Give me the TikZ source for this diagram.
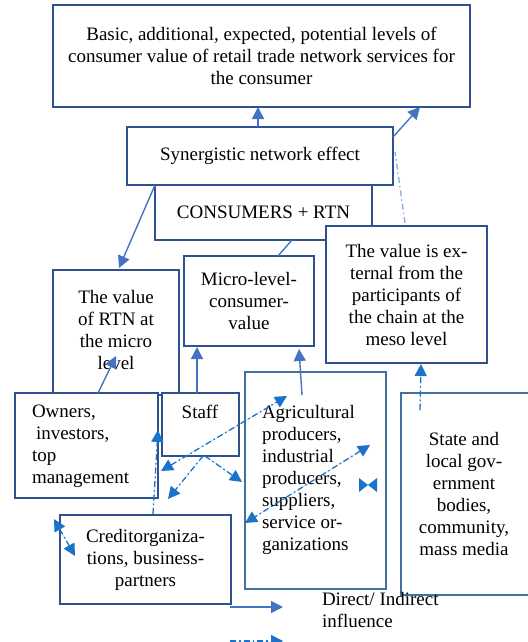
\documentclass[tikz,border=0pt]{standalone}
\usepackage{fontspec}
\setmainfont{Liberation Serif}
\usetikzlibrary{arrows.meta,calc}
\definecolor{bdark}{HTML}{2F528F}
\definecolor{blight}{HTML}{41719C}
\definecolor{arr}{HTML}{4472C4}
\definecolor{dd}{HTML}{1A73C8}
\definecolor{ddlight}{HTML}{8FAADC}
\begin{document}
\begin{tikzpicture}[x=1pt,y=-1pt,
  every node/.style={font=\fontsize{19}{22}\selectfont, inner sep=0pt, outer sep=0pt},
  box/.style={draw=bdark, line width=1.4pt, fill=white, anchor=north west, align=center},
  lbox/.style={box, draw=blight},
  tip/.style={-{Triangle[length=12pt,width=12pt]}},
  tips/.style={{Triangle[length=12pt,width=12pt]}-{Triangle[length=12pt,width=12pt]}},
  solidarr/.style={draw=arr, line width=1.4pt},
  ddarr/.style={draw=dd, fill=dd, line width=1.3pt, dash pattern=on 6pt off 3pt on 1.5pt off 3pt},
  ddlt/.style={draw=ddlight, line width=1.3pt, dash pattern=on 6pt off 3pt on 1.5pt off 3pt},
]
\useasboundingbox (0,0) rectangle (527,642);

% boxes
\node[box, minimum width=417pt, minimum height=102pt] (top) at (53,5)
  {Basic, additional, expected, potential levels of\\consumer value of retail trade network services for\\the consumer};
\node[box, minimum width=217pt, minimum height=55pt] (cons) at (155,185) {CONSUMERS + RTN};
\node[box, minimum width=266pt, minimum height=58pt] (syn) at (127,127) {Synergistic network effect};
\node[box, minimum width=126pt, minimum height=125pt] (rtn) at (53,270) {};
\node[anchor=north, align=center] (rtntext) at (116,290) {The value\\of RTN at\\the micro\\level};
\node[box, minimum width=130pt, minimum height=90pt] (micro) at (184,256) {Micro-level-\\consumer-\\value};
\node[box, minimum width=161pt, minimum height=137pt] (ext) at (326,226)
  {The value is ex-\\ternal from the\\participants of\\the chain at the\\meso level};
\node[box, minimum width=143pt, minimum height=105pt] (own) at (15,393) {};
\node[anchor=north west, align=left] (owntext) at (32,405) {Owners,\\\hspace{4pt}investors,\\top\\management};
\node[box, minimum width=77pt, minimum height=63pt] (staff) at (162,393) {};
\node[anchor=center] (stafftext) at (200,412) {Staff};
\node[lbox, minimum width=141pt, minimum height=217pt] (agri) at (245,372) {};
\node[anchor=north west, align=left] (agritext) at (262,405)
  {Agricultural\\producers,\\industrial\\producers,\\suppliers,\\service or-\\ganizations};
\node[lbox, minimum width=130pt, minimum height=202pt] (state) at (401,393) {};
\node[anchor=center, align=center] (statetext) at (464,494)
  {State and\\local gov-\\ernment\\bodies,\\community,\\mass media};
\node[box, minimum width=171pt, minimum height=89pt] (credit) at (60,515)
  {Creditorganiza-\\tions, business-\\partners};
\node[anchor=north west, align=left] (legtext) at (322,592) {Direct/ Indirect\\influence};

% solid connectors
\draw[solidarr,tip] ($(syn.north west)+(131,0)$) -- ($(top.south west)+(205,0)$);
\draw[solidarr,tip] ($(syn.north east)+(0,10)$) -- ($(top.south west)+(367,0)$);
\draw[solidarr,tip] ($(syn.south west)+(28,0)$) -- ($(rtn.north west)+(66,-2)$);
\draw[solidarr] ($(cons.south west)+(137,0)$) -- ($(micro.north west)+(94,0)$);
\draw[solidarr,tip] ($(staff.north west)+(35,0)$) -- ($(micro.south west)+(13,1)$);
\draw[solidarr,tip] ($(agri.north west)+(57,23)$) -- ($(micro.south west)+(115,3)$);
\draw[solidarr,tip] ($(own.north west)+(83,0)$) -- ($(rtn.north west)+(63,86)$);

% dash-dot connectors
\draw[ddlt] ($(ext.north west)+(79,-3)$) -- ($(syn.north east)+(2,25)$);
\draw[ddarr,tip] ($(state.north west)+(19,17)$) -- ($(ext.south west)+(95,1)$);
\draw[ddarr,tip] ($(credit.north west)+(93,-1)$) -- ($(own.north east)+(0,37)$);
\draw[ddarr,tips] ($(own.north east)+(3,78)$) -- ($(agri.north west)+(42,24)$);
\draw[ddarr,tip] ($(staff.south west)+(41,0)$) -- ($(credit.north west)+(108,-16)$);
\draw[ddarr,tip] ($(staff.south west)+(43,0)$) -- ($(agri.north west)+(-3,110)$);
\draw[ddarr,tips] ($(agri.north west)+(125,73)$) -- ($(agri.north west)+(0,151)$);
\draw[ddarr,tips] ($(credit.north west)+(-6,4)$) -- ($(credit.north west)+(15,41)$);
\fill[dd] ($(agri.north west)+(114,106)$) -- ++(9,7) -- ++(9,-7) -- ++(0,14) -- ++(-9,-7) -- ++(-9,7) -- cycle;

% legend
\coordinate (l1s) at (230,607);
\coordinate (l1e) at (283,607);
\coordinate (l2s) at (230,641);
\coordinate (l2e) at (283,641);
\draw[solidarr,tip] (l1s) -- (l1e);
\draw[ddarr,tip] (l2s) -- (l2e);
\end{tikzpicture}
\end{document}
